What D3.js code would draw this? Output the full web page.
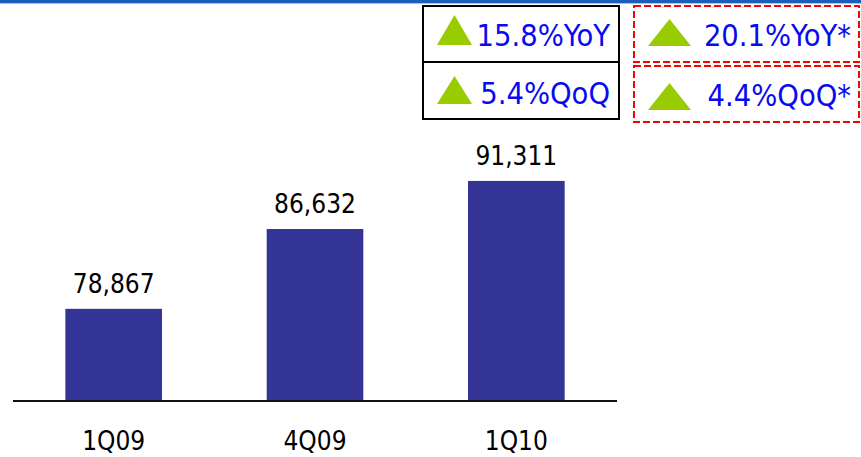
<!DOCTYPE html>
<html>
<head>
<meta charset="utf-8">
<script src="https://cdn.jsdelivr.net/npm/d3@7"></script>
<style>
  html, body { margin: 0; padding: 0; background: #fff; }
  svg { display: block; }
  text { font-family: "DejaVu Sans Condensed", "DejaVu Sans", sans-serif; }
</style>
</head>
<body>
<svg id="chart" width="861" height="457"></svg>
<script>
// ---- data ----
const categories = ["1Q09", "4Q09", "1Q10"];
const values = [78867, 86632, 91311];
const reportedLabels = ["15.8%YoY", "5.4%QoQ"];
const adjustedLabels = ["20.1%YoY*", "4.4%QoQ*"];

const svg = d3.select("#chart");

// top banner
svg.append("rect").attr("x", 0).attr("y", 0).attr("width", 861).attr("height", 3).attr("fill", "#1c5fb8");
svg.append("rect").attr("x", 0).attr("y", 3).attr("width", 861).attr("height", 1).attr("fill", "#a9c3e6");

// scales
const x = d3.scaleBand().domain(categories).range([13, 617]).paddingInner(0.52).paddingOuter(0.26);
const y = d3.scaleLinear().domain([70000, 95000]).range([400, 143]);

// bars
svg.append("g").selectAll("rect").data(values).join("rect")
  .attr("x", (d, i) => x(categories[i]))
  .attr("y", d => y(d))
  .attr("width", x.bandwidth())
  .attr("height", d => y(70000) - y(d))
  .attr("fill", "#343497");

// value labels
const fmt = d3.format(",");
svg.append("g").selectAll("text").data(values).join("text")
  .attr("x", (d, i) => x(categories[i]) + x.bandwidth() / 2)
  .attr("y", d => y(d) - 16)
  .attr("text-anchor", "middle")
  .attr("font-size", 26)
  .attr("fill", "#000")
  .text(d => fmt(d));

// x axis
const xAxis = d3.axisBottom(x).tickSize(0).tickPadding(0);
const gx = svg.append("g").attr("transform", "translate(0,401)").call(xAxis);
gx.select(".domain").attr("stroke", "#111").attr("stroke-width", 2).attr("d", "M13,0H617");
gx.selectAll(".tick text")
  .attr("font-size", 26)
  .attr("fill", "#000")
  .attr("dy", 0)
  .attr("y", 49)
  .style("font-family", '"DejaVu Sans Condensed", "DejaVu Sans", sans-serif');

// badges
function triangle(g, x0, yBottom, w, h) {
  g.append("path")
    .attr("d", `M${x0},${yBottom}L${x0 + w / 2},${yBottom - h}L${x0 + w},${yBottom}Z`)
    .attr("fill", "#99cc00");
}

// reported (solid black boxes)
const left = svg.append("g");
const leftRows = [{y0: 6, y1: 62, tri: [437, 45, 35, 30], base: 46}, {y0: 62, y1: 119, tri: [437, 104, 35, 28], base: 104}];
leftRows.forEach((r, i) => {
  left.append("rect").attr("x", 423).attr("y", r.y0).attr("width", 196).attr("height", r.y1 - r.y0)
    .attr("fill", "none").attr("stroke", "#000").attr("stroke-width", 2);
  triangle(left, ...r.tri);
  left.append("text").attr("x", 610).attr("y", r.base).attr("text-anchor", "end")
    .attr("font-size", 30.5).attr("fill", "#0a0af0").text(reportedLabels[i]);
});

// adjusted (dashed red boxes)
const right = svg.append("g");
const rightRows = [{y0: 6, y1: 62, tri: [648, 46, 43, 27], base: 46}, {y0: 66, y1: 122, tri: [648, 110, 43, 27], base: 106}];
rightRows.forEach((r, i) => {
  right.append("rect").attr("x", 634).attr("y", r.y0).attr("width", 225).attr("height", r.y1 - r.y0)
    .attr("fill", "none").attr("stroke", "#ff0000").attr("stroke-width", 2).attr("stroke-dasharray", "7,3");
  triangle(right, ...r.tri);
  right.append("text").attr("x", 851).attr("y", r.base).attr("text-anchor", "end")
    .attr("font-size", 30.5).attr("fill", "#0a0af0").text(adjustedLabels[i]);
});
</script>
</body>
</html>
